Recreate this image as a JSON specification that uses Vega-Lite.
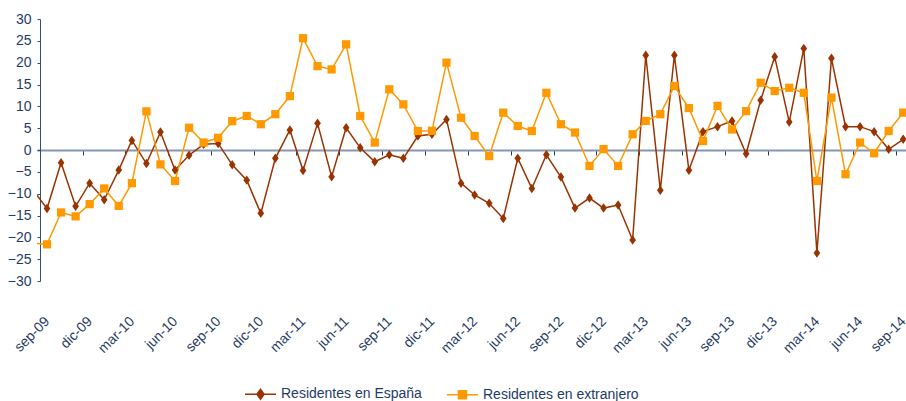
{
  "$schema": "https://vega.github.io/schema/vega-lite/v6.json",
  "autosize": {"type": "none"},
  "padding": {"left": 37, "top": 19, "right": 0, "bottom": 120},
  "width": 869,
  "height": 262,
  "background": "white",
  "config": {"view": {"stroke": null}, "font": "Liberation Sans"},
  "data": {"values": [
    {"fecha": "2009-08-01", "Residentes en España": -9.0, "Residentes en extranjero": -21.3},
    {"fecha": "2009-09-01", "Residentes en España": -13.4, "Residentes en extranjero": -21.6},
    {"fecha": "2009-10-01", "Residentes en España": -2.9, "Residentes en extranjero": -14.3},
    {"fecha": "2009-11-01", "Residentes en España": -12.9, "Residentes en extranjero": -15.2},
    {"fecha": "2009-12-01", "Residentes en España": -7.6, "Residentes en extranjero": -12.4},
    {"fecha": "2010-01-01", "Residentes en España": -11.4, "Residentes en extranjero": -8.8},
    {"fecha": "2010-02-01", "Residentes en España": -4.6, "Residentes en extranjero": -12.8},
    {"fecha": "2010-03-01", "Residentes en España": 2.2, "Residentes en extranjero": -7.6},
    {"fecha": "2010-04-01", "Residentes en España": -3.1, "Residentes en extranjero": 8.85},
    {"fecha": "2010-05-01", "Residentes en España": 4.1, "Residentes en extranjero": -3.3},
    {"fecha": "2010-06-01", "Residentes en España": -4.6, "Residentes en extranjero": -7.1},
    {"fecha": "2010-07-01", "Residentes en España": -1.2, "Residentes en extranjero": 5.1},
    {"fecha": "2010-08-01", "Residentes en España": 1.3, "Residentes en extranjero": 1.7},
    {"fecha": "2010-09-01", "Residentes en España": 1.5, "Residentes en extranjero": 2.8},
    {"fecha": "2010-10-01", "Residentes en España": -3.4, "Residentes en extranjero": 6.6},
    {"fecha": "2010-11-01", "Residentes en España": -6.9, "Residentes en extranjero": 7.8},
    {"fecha": "2010-12-01", "Residentes en España": -14.5, "Residentes en extranjero": 5.9},
    {"fecha": "2011-01-01", "Residentes en España": -1.9, "Residentes en extranjero": 8.2},
    {"fecha": "2011-02-01", "Residentes en España": 4.6, "Residentes en extranjero": 12.35},
    {"fecha": "2011-03-01", "Residentes en España": -4.7, "Residentes en extranjero": 25.6},
    {"fecha": "2011-04-01", "Residentes en España": 6.1, "Residentes en extranjero": 19.2},
    {"fecha": "2011-05-01", "Residentes en España": -6.1, "Residentes en extranjero": 18.45},
    {"fecha": "2011-06-01", "Residentes en España": 5.1, "Residentes en extranjero": 24.2},
    {"fecha": "2011-07-01", "Residentes en España": 0.5, "Residentes en extranjero": 7.8},
    {"fecha": "2011-08-01", "Residentes en España": -2.7, "Residentes en extranjero": 1.7},
    {"fecha": "2011-09-01", "Residentes en España": -1.1, "Residentes en extranjero": 13.9},
    {"fecha": "2011-10-01", "Residentes en España": -1.9, "Residentes en extranjero": 10.45},
    {"fecha": "2011-11-01", "Residentes en España": 3.2, "Residentes en extranjero": 4.35},
    {"fecha": "2011-12-01", "Residentes en España": 3.6, "Residentes en extranjero": 4.4},
    {"fecha": "2012-01-01", "Residentes en España": 7.0, "Residentes en extranjero": 20.0},
    {"fecha": "2012-02-01", "Residentes en España": -7.6, "Residentes en extranjero": 7.4},
    {"fecha": "2012-03-01", "Residentes en España": -10.3, "Residentes en extranjero": 3.2},
    {"fecha": "2012-04-01", "Residentes en España": -12.2, "Residentes en extranjero": -1.4},
    {"fecha": "2012-05-01", "Residentes en España": -15.7, "Residentes en extranjero": 8.55},
    {"fecha": "2012-06-01", "Residentes en España": -1.9, "Residentes en extranjero": 5.5},
    {"fecha": "2012-07-01", "Residentes en España": -8.8, "Residentes en extranjero": 4.35},
    {"fecha": "2012-08-01", "Residentes en España": -1.1, "Residentes en extranjero": 13.1},
    {"fecha": "2012-09-01", "Residentes en España": -6.2, "Residentes en extranjero": 5.9},
    {"fecha": "2012-10-01", "Residentes en España": -13.3, "Residentes en extranjero": 4.0},
    {"fecha": "2012-11-01", "Residentes en España": -11.0, "Residentes en extranjero": -3.65},
    {"fecha": "2012-12-01", "Residentes en España": -13.3, "Residentes en extranjero": 0.2},
    {"fecha": "2013-01-01", "Residentes en España": -12.6, "Residentes en extranjero": -3.65},
    {"fecha": "2013-02-01", "Residentes en España": -20.6, "Residentes en extranjero": 3.6},
    {"fecha": "2013-03-01", "Residentes en España": 21.7, "Residentes en extranjero": 6.65},
    {"fecha": "2013-04-01", "Residentes en España": -9.2, "Residentes en extranjero": 8.2},
    {"fecha": "2013-05-01", "Residentes en España": 21.7, "Residentes en extranjero": 14.65},
    {"fecha": "2013-06-01", "Residentes en España": -4.65, "Residentes en extranjero": 9.6},
    {"fecha": "2013-07-01", "Residentes en España": 4.2, "Residentes en extranjero": 2.05},
    {"fecha": "2013-08-01", "Residentes en España": 5.35, "Residentes en extranjero": 10.1},
    {"fecha": "2013-09-01", "Residentes en España": 6.65, "Residentes en extranjero": 4.7},
    {"fecha": "2013-10-01", "Residentes en España": -0.85, "Residentes en extranjero": 8.9},
    {"fecha": "2013-11-01", "Residentes en España": 11.4, "Residentes en extranjero": 15.4},
    {"fecha": "2013-12-01", "Residentes en España": 21.35, "Residentes en extranjero": 13.5},
    {"fecha": "2014-01-01", "Residentes en España": 6.4, "Residentes en extranjero": 14.25},
    {"fecha": "2014-02-01", "Residentes en España": 23.25, "Residentes en extranjero": 13.1},
    {"fecha": "2014-03-01", "Residentes en España": -23.6, "Residentes en extranjero": -7.1},
    {"fecha": "2014-04-01", "Residentes en España": 21.0, "Residentes en extranjero": 12.0},
    {"fecha": "2014-05-01", "Residentes en España": 5.35, "Residentes en extranjero": -5.55},
    {"fecha": "2014-06-01", "Residentes en España": 5.35, "Residentes en extranjero": 1.7},
    {"fecha": "2014-07-01", "Residentes en España": 4.2, "Residentes en extranjero": -0.75},
    {"fecha": "2014-08-01", "Residentes en España": 0.15, "Residentes en extranjero": 4.35},
    {"fecha": "2014-09-01", "Residentes en España": 2.45, "Residentes en extranjero": 8.55}
  ]},
  "transform": [
    {"fold": ["Residentes en España", "Residentes en extranjero"], "as": ["serie", "valor"]}
  ],
  "encoding": {
    "x": {
      "field": "fecha", "type": "temporal",
      "scale": {"type": "utc", "domain": [
        {"year": 2009, "month": 8, "date": 10, "hours": 16, "utc": true},
        {"year": 2014, "month": 9, "date": 7, "utc": true}
      ]},
      "axis": {
        "title": null,
        "orient": "bottom",
        "offset": -131,
        "grid": false,
        "domainColor": "#8497B0",
        "domainWidth": 2,
        "tickColor": "#1F3B66",
        "tickSize": 5,
        "tickWidth": 1,
        "tickOffset": -7.1,
        "labelOffset": 7.1,
        "labelAngle": -45,
        "labelAlign": "right",
        "labelBaseline": "middle",
        "labelPadding": 164,
        "labelFont": "Liberation Sans",
        "labelFontSize": 14,
        "labelColor": "#1F3B66",
        "labelOverlap": false,
        "labelBound": false,
        "labelFlush": false,
        "values": [
          {"year": 2009, "month": 9, "date": 1, "utc": true},
          {"year": 2009, "month": 12, "date": 1, "utc": true},
          {"year": 2010, "month": 3, "date": 1, "utc": true},
          {"year": 2010, "month": 6, "date": 1, "utc": true},
          {"year": 2010, "month": 9, "date": 1, "utc": true},
          {"year": 2010, "month": 12, "date": 1, "utc": true},
          {"year": 2011, "month": 3, "date": 1, "utc": true},
          {"year": 2011, "month": 6, "date": 1, "utc": true},
          {"year": 2011, "month": 9, "date": 1, "utc": true},
          {"year": 2011, "month": 12, "date": 1, "utc": true},
          {"year": 2012, "month": 3, "date": 1, "utc": true},
          {"year": 2012, "month": 6, "date": 1, "utc": true},
          {"year": 2012, "month": 9, "date": 1, "utc": true},
          {"year": 2012, "month": 12, "date": 1, "utc": true},
          {"year": 2013, "month": 3, "date": 1, "utc": true},
          {"year": 2013, "month": 6, "date": 1, "utc": true},
          {"year": 2013, "month": 9, "date": 1, "utc": true},
          {"year": 2013, "month": 12, "date": 1, "utc": true},
          {"year": 2014, "month": 3, "date": 1, "utc": true},
          {"year": 2014, "month": 6, "date": 1, "utc": true},
          {"year": 2014, "month": 9, "date": 1, "utc": true}
        ],
        "labelExpr": "['ene','feb','mar','abr','may','jun','jul','ago','sep','oct','nov','dic'][utcmonth(datum.value)] + '-' + utcFormat(datum.value, '%y')"
      }
    },
    "y": {
      "field": "valor", "type": "quantitative",
      "scale": {"domain": [-30, 30], "nice": false, "zero": false},
      "axis": {
        "title": null,
        "values": [-30, -25, -20, -15, -10, -5, 0, 5, 10, 15, 20, 25, 30],
        "offset": -3,
        "grid": false,
        "domainColor": "#2E4F7A",
        "domainWidth": 1,
        "tickColor": "#2E4F7A",
        "tickSize": 3,
        "labelPadding": 6,
        "labelFont": "Liberation Sans",
        "labelFontSize": 14,
        "labelColor": "#1F3B66",
        "labelBound": false,
        "labelFlush": false
      }
    },
    "color": {
      "field": "serie", "type": "nominal",
      "scale": {"domain": ["Residentes en España", "Residentes en extranjero"], "range": ["#993300", "#FF9900"]},
      "legend": {
        "title": null,
        "orient": "none",
        "legendX": 207,
        "legendY": 358.5,
        "direction": "horizontal",
        "symbolSize": 961,
        "symbolStrokeWidth": 1.5,
        "labelFont": "Liberation Sans",
        "labelFontSize": 14,
        "labelLimit": 300,
        "labelColor": "#1F3B66",
        "labelOffset": 4,
        "columnPadding": 22,
        "encode": {
          "symbols": {
            "update": {
              "shape": {"signal": "datum.value === 'Residentes en España' ? 'M-1,0H1M-0.23,0L0,-0.32L0.23,0L0,0.32Z' : 'M-1,0H1M-0.26,-0.26H0.26V0.26H-0.26Z'"},
              "fill": {"scale": "color", "field": "value"},
              "stroke": {"scale": "color", "field": "value"},
              "strokeWidth": {"value": 1.5},
              "opacity": {"value": 1}
            }
          }
        }
      }
    }
  },
  "layer": [
    {"mark": {"type": "line", "clip": true, "strokeWidth": 1.5}},
    {
      "transform": [{"filter": "datum.serie === 'Residentes en España'"}],
      "mark": {"type": "point", "clip": true, "filled": true, "opacity": 1, "shape": "M-0.7,0L0,-1L0.7,0L0,1Z", "size": 90}
    },
    {
      "transform": [{"filter": "datum.serie === 'Residentes en extranjero'"}],
      "mark": {"type": "point", "clip": true, "filled": true, "opacity": 1, "shape": "square", "size": 68}
    }
  ]
}
